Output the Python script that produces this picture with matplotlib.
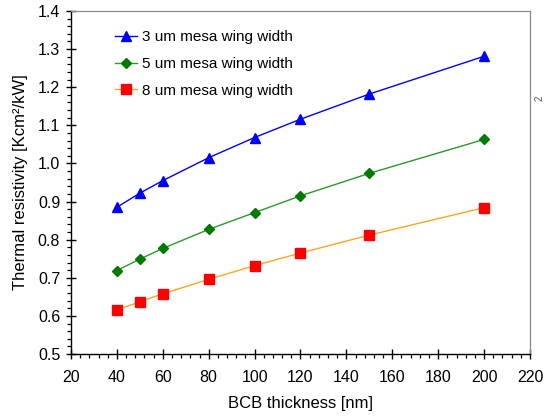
import matplotlib
matplotlib.use("Agg")
import matplotlib.pyplot as plt
from matplotlib.ticker import MultipleLocator, FormatStrFormatter

plt.rcParams["font.family"] = ["Liberation Sans", "DejaVu Sans"]

# BCB thickness [nm]
thickness = [40, 50, 60, 80, 100, 120, 150, 200]

# thermal resistivity [Kcm^2/kW] per mesa wing width
r_3um = [0.885, 0.922, 0.955, 1.015, 1.068, 1.116, 1.182, 1.281]
r_5um = [0.719, 0.749, 0.777, 0.827, 0.871, 0.915, 0.974, 1.063]
r_8um = [0.616, 0.637, 0.658, 0.696, 0.732, 0.765, 0.812, 0.884]

labels = ["3 um mesa wing width", "5 um mesa wing width", "8 um mesa wing width"]


def main() -> None:
    fig = plt.figure(figsize=(5.46, 4.2), dpi=100)
    ax = fig.add_axes([0.130, 0.157, 0.8407, 0.817])

    ax.plot(thickness, r_3um, color="#0000ff", lw=1.0, marker="^", ms=6.5,
            mfc="#0000ff", mec="#0000ff", label=labels[0])
    ax.plot(thickness, r_5um, color="#2a9a2a", lw=1.0, marker="D", ms=4.8,
            mfc="#007a00", mec="#007a00", label=labels[1])
    ax.plot(thickness, r_8um, color="#ffa520", lw=1.0, marker="s", ms=6.5,
            mfc="#ff0000", mec="#ff0000", label=labels[2])

    ax.set_xlim(20, 220)
    ax.set_ylim(0.5, 1.4)
    ax.xaxis.set_major_locator(MultipleLocator(20))
    ax.xaxis.set_minor_locator(MultipleLocator(4))
    ax.yaxis.set_major_locator(MultipleLocator(0.1))
    ax.yaxis.set_minor_locator(MultipleLocator(0.02))
    ax.yaxis.set_major_formatter(FormatStrFormatter("%.1f"))

    ax.tick_params(which="major", direction="inout", length=7.5, width=1.0,
                   labelsize=11.5, color="black")
    ax.tick_params(axis="x", which="major", pad=8)
    ax.tick_params(axis="y", which="major", pad=4)
    ax.tick_params(which="minor", direction="out", length=3, width=0.9)

    for side in ("left", "bottom"):
        ax.spines[side].set_color("black")
        ax.spines[side].set_linewidth(1.0)
    for side in ("top", "right"):
        ax.spines[side].set_color("#8c8c8c")
        ax.spines[side].set_linewidth(0.9)

    ax.set_xlabel("BCB thickness [nm]", fontsize=12, labelpad=8)
    ax.set_ylabel("Thermal resistivity [Kcm²/kW]", fontsize=12, labelpad=7)

    ax.legend(loc="upper left", bbox_to_anchor=(0.096, 0.943), frameon=False,
              fontsize=11, handlelength=1.45, handletextpad=0.3,
              labelspacing=0.82, borderpad=0, borderaxespad=0)

    # clipped artefact from a neighbouring panel
    fig.text(0.988, 1 - 98 / 420, "2", rotation=90, fontsize=7,
             color="#555555", ha="center", va="center")

    fig.savefig("out.png", dpi=100)
    plt.close(fig)


if __name__ == "__main__":
    main()
